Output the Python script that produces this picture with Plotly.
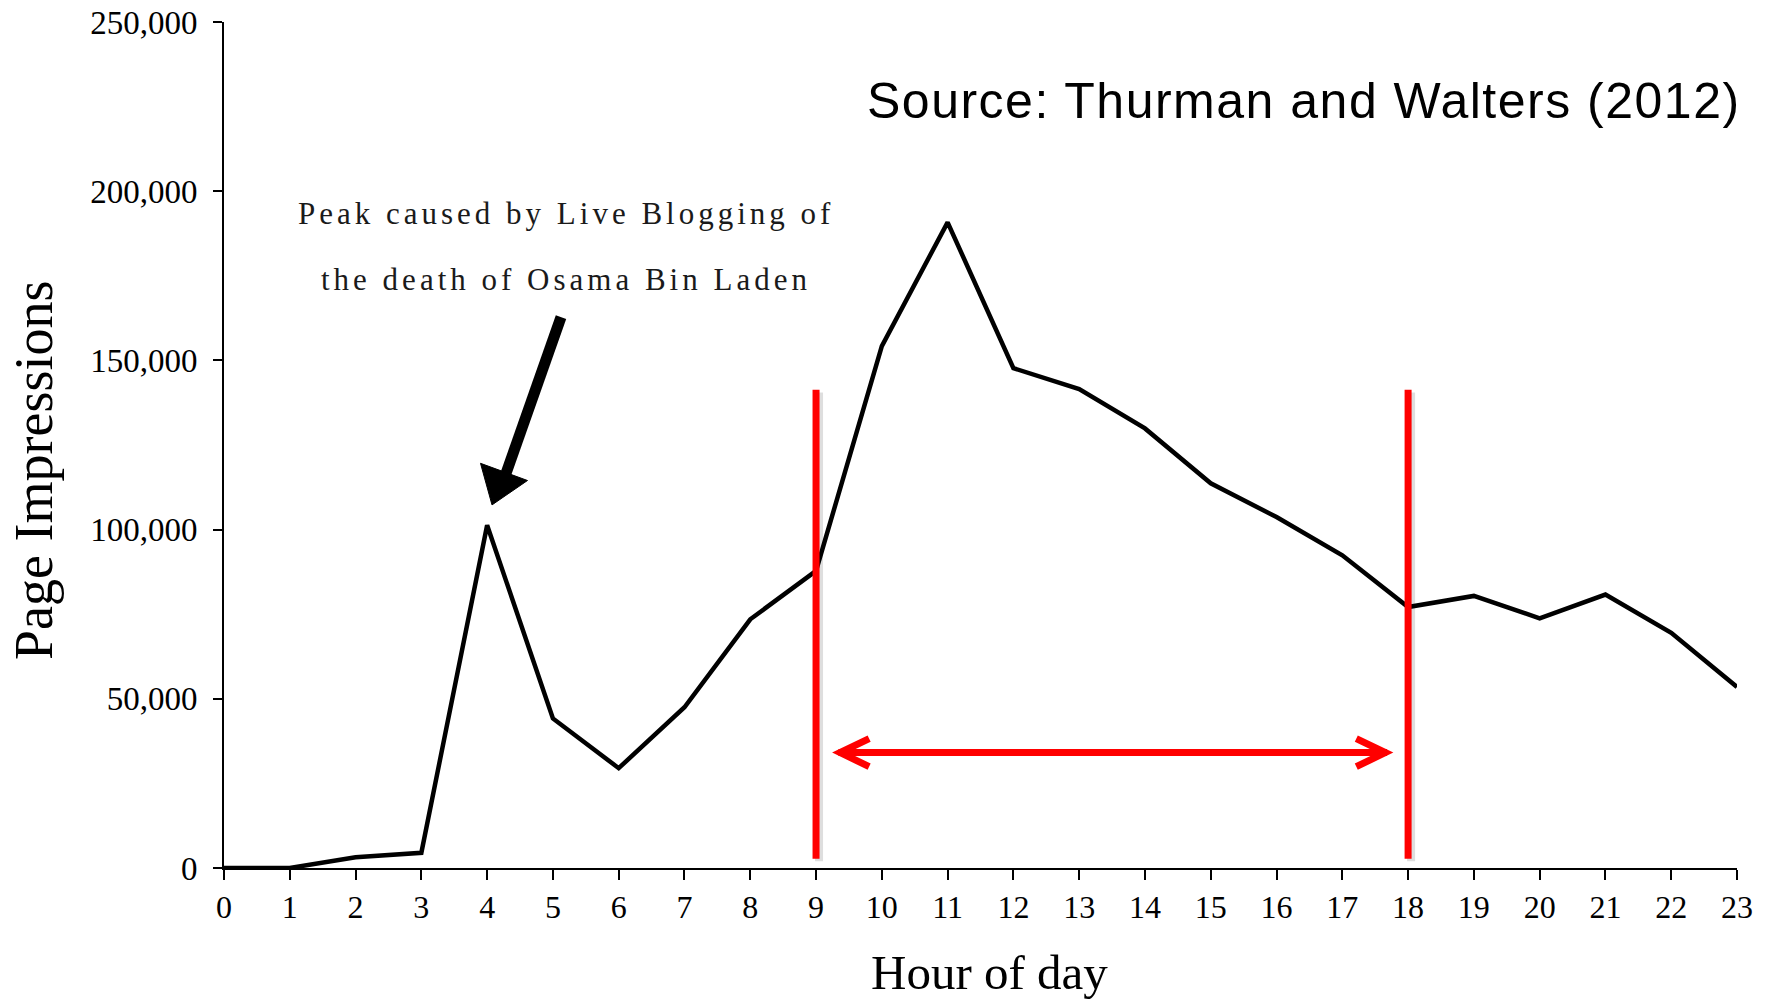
import plotly.graph_objects as go

# ---- data ----
hours = list(range(24))
impressions = [0, 0, 3200, 4500, 101300, 44200, 29500, 47500, 73500, 87800,
               154200, 190800, 147700, 141500, 129900, 113700, 103700, 92400,
               77100, 80400, 73800, 80800, 69500, 53500]
y_tick_vals = [0, 50000, 100000, 150000, 200000, 250000]
y_tick_text = ["0", "50,000", "100,000", "150,000", "200,000", "250,000"]
x_tick_vals = hours
x_tick_text = [str(h) for h in hours]

window_start, window_end = 9, 18
x_title = "Hour of day"
y_title = "Page Impressions"
source_text = "Source: Thurman and Walters (2012)"
note_lines = ["Peak caused by Live Blogging of", "the death of Osama Bin Laden"]

W, H = 1769, 1001
L, R, T, B = 224, 32, 22, 133

fig = go.Figure()
fig.add_trace(go.Scatter(x=hours, y=impressions, mode="lines",
                         line=dict(color="black", width=4.5), hoverinfo="skip",
                         showlegend=False))

serif = "Liberation Serif, Times New Roman, serif"
sans = "Liberation Sans, Arial, sans-serif"

fig.update_layout(
    width=W, height=H, margin=dict(l=L, r=R, t=T, b=B, autoexpand=False),
    paper_bgcolor="white", plot_bgcolor="white", showlegend=False,
    xaxis=dict(range=[0, 23], tickvals=x_tick_vals, ticktext=x_tick_text,
               automargin=False,
               showgrid=False, zeroline=False, showline=True, linecolor="black",
               linewidth=2, ticks="outside", ticklen=10, tickwidth=2,
               tickcolor="black", ticklabelstandoff=0,
               tickfont=dict(family=serif, size=32, color="black")),
    yaxis=dict(range=[0, 250000], tickvals=y_tick_vals, ticktext=y_tick_text,
               automargin=False,
               showgrid=False, zeroline=False, showline=True, linecolor="black",
               linewidth=2, ticks="outside", ticklen=9, tickwidth=2,
               tickcolor="black", ticklabelstandoff=9,
               tickfont=dict(family=serif, size=33, color="black")),
)

pw, ph = W - L - R, H - T - B
def px(xp):
    return (xp - L) / pw
def py(yp):
    return (H - B - yp) / ph

ann = []
ann.append(dict(text=x_title, x=px(989), y=py(972), xref="paper", yref="paper",
                showarrow=False, xanchor="center", yanchor="middle",
                font=dict(family=serif, size=49, color="black")))
ann.append(dict(text=y_title, x=px(34), y=py(471), xref="paper", yref="paper",
                showarrow=False, xanchor="center", yanchor="middle", textangle=-90,
                font=dict(family=serif, size=54, color="black")))
ann.append(dict(text='<span style="letter-spacing:1.5px">' + source_text + '</span>',
                x=px(1743), y=py(101), xref="paper", yref="paper",
                showarrow=False, xanchor="right", yanchor="middle",
                font=dict(family=sans, size=50, color="black")))
for line, yc in zip(note_lines, [213, 279]):
    ann.append(dict(text='<span style="letter-spacing:4px">' + line + '</span>',
                    x=px(566), y=py(yc), xref="paper", yref="paper",
                    showarrow=False, xanchor="center", yanchor="middle",
                    font=dict(family=serif, size=31, color="#1a1a1a")))
fig.update_layout(annotations=ann)

shapes = []
red = "#FF0000"
shadow = "rgba(0,0,0,0.13)"
for xv in [window_start, window_end]:
    shapes.append(dict(type="line", xref="x", yref="y", xsizemode="pixel",
                       xanchor=xv, x0=3, x1=3, y0=2000, y1=140500,
                       line=dict(color=shadow, width=8), layer="above"))
    shapes.append(dict(type="line", xref="x", yref="y", x0=xv, x1=xv,
                       y0=2700, y1=141300, line=dict(color=red, width=7),
                       layer="above"))
arrow_y = 34100
tip_l, tip_r = 9.26, 17.76
shapes.append(dict(type="line", xref="x", yref="y", x0=tip_l + 0.08, x1=tip_r - 0.08,
                   y0=arrow_y, y1=arrow_y, line=dict(color=red, width=7),
                   layer="above"))
shapes.append(dict(type="path", xref="x", yref="y", xsizemode="pixel",
                   ysizemode="pixel", xanchor=tip_l, yanchor=arrow_y,
                   path="M36,14 L7,0 L36,-14", fillcolor="rgba(0,0,0,0)",
                   line=dict(color=red, width=7), layer="above"))
shapes.append(dict(type="path", xref="x", yref="y", xsizemode="pixel",
                   ysizemode="pixel", xanchor=tip_r, yanchor=arrow_y,
                   path="M-36,14 L-7,0 L-36,-14", fillcolor="rgba(0,0,0,0)",
                   line=dict(color=red, width=7), layer="above"))
tip_x, tip_y = 4.074, 107300
shapes.append(dict(type="line", xref="x", yref="y", x0=5.123, y0=162800,
                   x1=4.24, y1=114000, line=dict(color="black", width=11),
                   layer="above"))
shapes.append(dict(type="path", xref="x", yref="y", xsizemode="pixel",
                   ysizemode="pixel", xanchor=tip_x, yanchor=tip_y,
                   path="M0,0 L-11.5,41.6 L35.5,24.4 Z", fillcolor="black",
                   line=dict(color="black", width=1), layer="above"))
fig.update_layout(shapes=shapes)

fig.write_html("out.html", config={"displayModeBar": False},
               post_script="document.body.style.margin='0px';document.body.style.overflow='hidden';")
